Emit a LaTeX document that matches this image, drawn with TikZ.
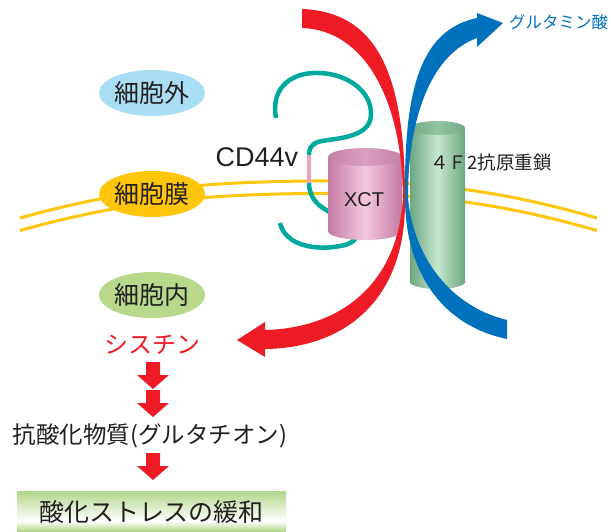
\documentclass[tikz,border=0pt]{standalone}
\usepackage{xcolor}
\usepackage{fontspec}
\setmainfont{Liberation Sans}
\newfontfamily\jp{Noto Sans CJK JP}
\usepackage{tikz}
\usetikzlibrary{shapes.geometric}

\definecolor{jpred}{HTML}{ED1C24}
\definecolor{jpblue}{HTML}{0071BC}
\definecolor{cdteal}{HTML}{00A99D}
\definecolor{cdpink}{HTML}{F19EC2}
\definecolor{lipid}{HTML}{FFC60B}
\definecolor{outside}{HTML}{A9DEF6}
\definecolor{inside}{HTML}{B8D98C}
\definecolor{ink}{HTML}{231F20}
\definecolor{xctside}{HTML}{C27BA2}
\definecolor{xctlight}{HTML}{F4C8DD}
\definecolor{xctlid}{HTML}{D9A0C0}
\definecolor{hcside}{HTML}{6DA680}
\definecolor{hclight}{HTML}{C5E7D0}
\definecolor{hclid}{HTML}{92C4A2}
\definecolor{boxgreen}{HTML}{B3D68A}

\newcommand{\pxsize}[1]{\fontsize{#1}{#1}\selectfont}
% cylinder: cx, top, bottom, rx, ry, side, light, lid
\newcommand{\drum}[8]{%
  \shade[left color=#6, right color=#6, middle color=#7]
    (#1-#4,#2) rectangle (#1+#4,#3);
  \shade[left color=#6, right color=#6, middle color=#7]
    (#1,#3) ellipse [x radius=#4, y radius=#5];
  \shade[left color=#6!85!#8, right color=#6!85!#8, middle color=#8]
    (#1,#2) ellipse [x radius=#4, y radius=#5];
}

\tikzset{
  region/.style={ellipse, minimum width=92, minimum height=46, inner sep=0,
    text=ink, font=\jp\pxsize{25}},
  label/.style={text=ink, inner sep=0},
  membrane/.style={lipid, line width=3pt},
  tether/.style={cdteal, line width=4.5pt},
  bigred/.style={fill=jpred},
}

\begin{document}
\begin{tikzpicture}[x=1pt, y=-1pt]
\useasboundingbox (0,0) rectangle (611,531);

\foreach \dy in {0,12.5}
  \draw[membrane] (20,218+\dy) .. controls (120,190+\dy) and (200,182+\dy) .. (310,181+\dy)
    .. controls (420,180+\dy) and (500,190+\dy) .. (597,218+\dy);

\node[region, fill=outside] (out) at (152,93) {細胞外};
\node[region, fill=lipid] (mem) at (152,194) {細胞膜};
\node[region, fill=inside] (in) at (152,295) {細胞内};

% CD44v loop
\draw[tether] (276,118) .. controls (270,85) and (295,72) .. (318,73)
  .. controls (345,73) and (372,90) .. (371,115)
  .. controls (370,140) and (330,138) .. (318,142)
  .. controls (310,145) and (309,150) .. (309,155);
\draw[tether] (309,183) .. controls (309,205) and (330,213) .. (345,218)
  .. controls (362,225) and (362,240) .. (345,245)
  .. controls (315,252) and (285,245) .. (280,223);
\draw[cdpink, line width=4.5pt] (309,155) -- (309,183);

\drum{365}{157}{231}{37}{9}{xctside}{xctlight}{xctlid}
\drum{437.5}{128}{282}{27.5}{7}{hcside}{hclight}{hclid}

% cystine in
\fill[bigred] (302,9) .. controls (375,12) and (405,70) .. (405,197)
  .. controls (407,300) and (345,348) .. (265,349)
  -- (265,357) -- (237,340) -- (265,322) -- (265,330)
  .. controls (340,328) and (398,285) .. (403,197)
  .. controls (402,100) and (365,30) .. (302,28) -- cycle;

% glutamate out
\fill[jpblue] (507,339) .. controls (440,325) and (405,270) .. (405,197)
  .. controls (404,90) and (420,30) .. (477,18)
  -- (477,13) -- (503,23) -- (477,47) -- (477,38)
  .. controls (430,55) and (408,120) .. (408,197)
  .. controls (412,250) and (445,305) .. (507,320) -- cycle;

\node[label, font=\pxsize{27}] (cd) at (257,157) {CD44v};
\node[label, font=\pxsize{20}] (xct) at (364,200) {XCT};
\node[label, font=\jp\pxsize{18.5}] (hc) at (491,162) {４Ｆ2抗原重鎖};
\node[label, text=jpblue, anchor=west, font=\jp\pxsize{16.5}] (glu) at (509,22) {グルタミン酸};

\node[label, text=jpred, font=\jp\pxsize{24}] (cys) at (152,345) {シスチン};
\node[label, font=\jp\pxsize{23.5}] (gsh) at (150,436) {抗酸化物質(グルタチオン)};

\foreach \t in {362,390,453}
  \fill[bigred] (146,\t) -- (160,\t) -- (160,\t+13) -- (169,\t+13) -- (153,\t+27)
    -- (137,\t+13) -- (146,\t+13) -- cycle;

\shade[top color=boxgreen, bottom color=white] (17,491) rectangle (286,521);
\shade[top color=white, bottom color=boxgreen] (17,521) rectangle (286,531);
\node[label, font=\jp\pxsize{25}] (relief) at (151.5,512) {酸化ストレスの緩和};
\end{tikzpicture}
\end{document}
